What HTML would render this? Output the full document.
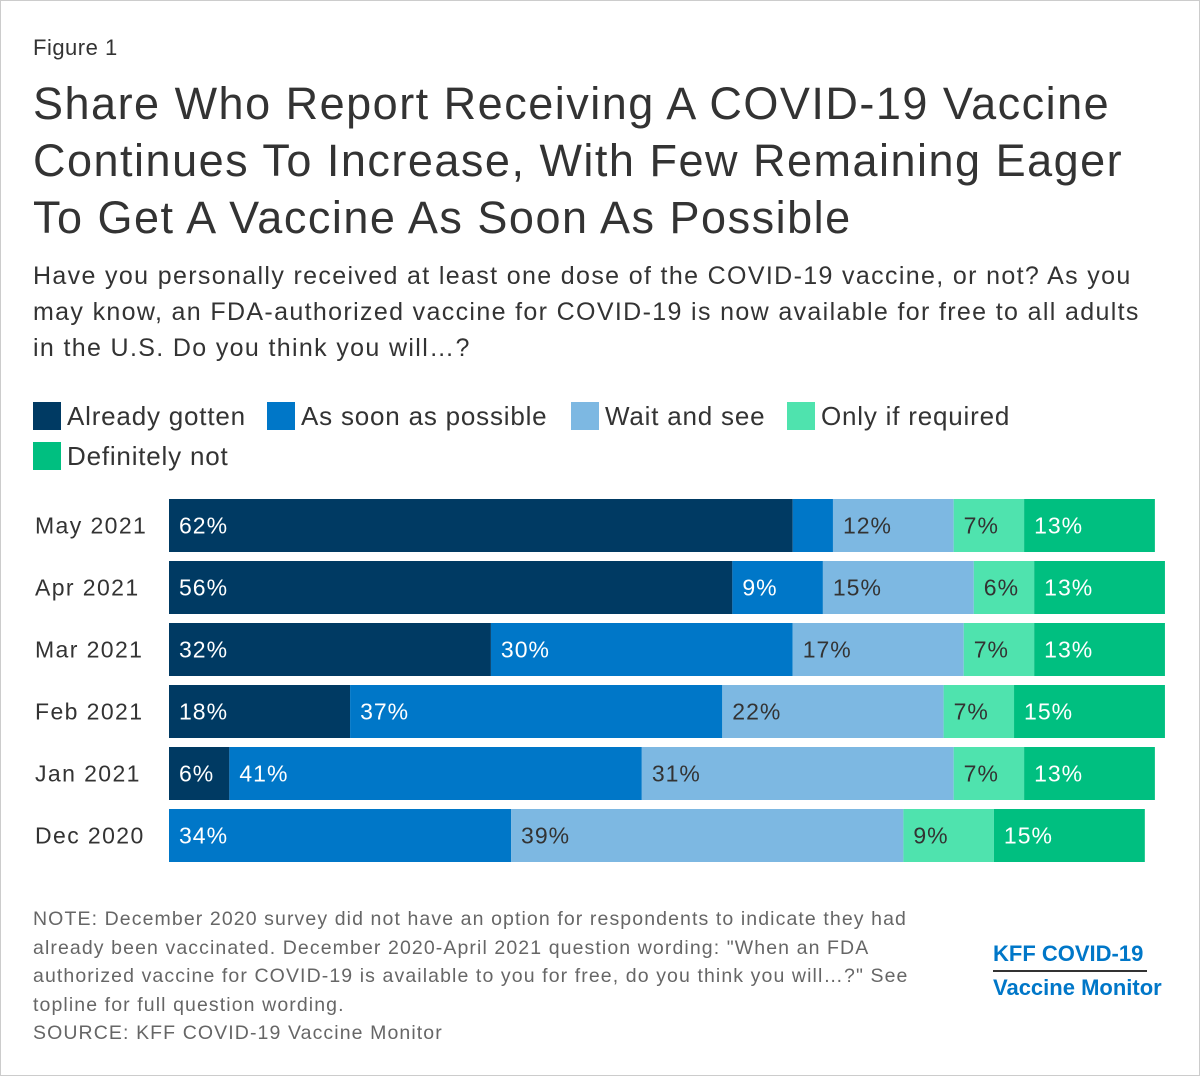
<!DOCTYPE html>
<html><head><meta charset="utf-8"><style>
body{margin:0;background:#fff;}
#wrap{position:relative;width:1198px;height:1074px;border:1px solid #ccc;font-family:"Liberation Sans",Arial,sans-serif;color:#333;overflow:hidden}
.abs{position:absolute;white-space:nowrap}
.sw{display:inline-block;width:28px;height:28px;vertical-align:-5px;margin-right:6px}
.li{position:absolute;font-size:26px;color:#333;letter-spacing:0.8px}
</style></head><body>
<div id="wrap">
<div class="abs" style="left:32px;top:34px;font-size:22px;letter-spacing:0.5px">Figure 1</div>
<div class="abs" style="left:32px;top:74px;font-size:45px;line-height:57px;color:#333;letter-spacing:1.5px">Share Who Report Receiving A COVID-19 Vaccine<br>Continues To Increase, With Few Remaining Eager<br>To Get A Vaccine As Soon As Possible</div>
<div class="abs" style="left:32px;top:257px;font-size:25px;line-height:36px;letter-spacing:1.35px">Have you personally received at least one dose of the COVID-19 vaccine, or not? As you<br>may know, an FDA-authorized vaccine for COVID-19 is now available for free to all adults<br>in the U.S. Do you think you will…?</div>
<div class="li" style="left:32px;top:400px"><span class="sw" style="background:#003A63"></span>Already gotten</div>
<div class="li" style="left:266px;top:400px"><span class="sw" style="background:#0077C8"></span>As soon as possible</div>
<div class="li" style="left:570px;top:400px"><span class="sw" style="background:#7DB8E2"></span>Wait and see</div>
<div class="li" style="left:786px;top:400px"><span class="sw" style="background:#4FE3AE"></span>Only if required</div>
<div class="li" style="left:32px;top:440px"><span class="sw" style="background:#00BF80"></span>Definitely not</div>
<svg id="chart" class="abs" style="left:0;top:0" width="1198" height="1074"></svg>
<div class="abs" style="left:32px;top:904px;font-size:19.5px;line-height:28.5px;color:#666;letter-spacing:1.1px">NOTE: December 2020 survey did not have an option for respondents to indicate they had<br>already been vaccinated. December 2020-April 2021 question wording: "When an FDA<br>authorized vaccine for COVID-19 is available to you for free, do you think you will…?" See<br>topline for full question wording.<br>SOURCE: KFF COVID-19 Vaccine Monitor</div>
<div class="abs" style="left:992px;top:940px;font-size:22px;font-weight:bold;color:#0077C8;line-height:26px">KFF COVID-19</div>
<div class="abs" style="left:992px;top:969px;width:154px;height:1.5px;background:#333"></div>
<div class="abs" style="left:992px;top:974px;font-size:22px;font-weight:bold;color:#0077C8;line-height:26px">Vaccine Monitor</div>
</div>
<script>
const categories=["May 2021","Apr 2021","Mar 2021","Feb 2021","Jan 2021","Dec 2020"];
const alreadyGotten=[62,56,32,18,6,0];
const asSoonAsPossible=[4,9,30,37,41,34];
const waitAndSee=[12,15,17,22,31,39];
const onlyIfRequired=[7,6,7,7,7,9];
const definitelyNot=[13,13,13,15,13,15];
const series=[alreadyGotten,asSoonAsPossible,waitAndSee,onlyIfRequired,definitelyNot];
const names=["already-gotten","as-soon-as-possible","wait-and-see","only-if-required","definitely-not"];
const colors=["#003A63","#0077C8","#7DB8E2","#4FE3AE","#00BF80"];
const textColors=["#fff","#fff","#333","#333","#fff"];
const svg=document.getElementById('chart');const NS="http://www.w3.org/2000/svg";
const x0=168,pxPer=10.06,yTop=498,pitch=62,bh=53;
const xs=v=>v*pxPer;
categories.forEach((c,i)=>{
 const y=yTop+i*pitch;
 const t=document.createElementNS(NS,'text');
 
 
 t.setAttribute('x',34);t.setAttribute('y',y+bh/2+8);t.setAttribute('font-size','23');t.setAttribute('fill','#333');t.setAttribute('font-family','Liberation Sans, sans-serif');t.setAttribute('letter-spacing','1.4');
 t.textContent=c;svg.appendChild(t);
 let cum=0;
 series.forEach((s,k)=>{
  const v=s[i];if(v<=0)return;
  const r=document.createElementNS(NS,'rect');
  
  
  r.setAttribute('x',x0+xs(cum));r.setAttribute('y',y);r.setAttribute('width',xs(v));r.setAttribute('height',bh);r.setAttribute('fill',colors[k]);
  svg.appendChild(r);
  if(v>=5){
   const l=document.createElementNS(NS,'text');
   
   
   l.setAttribute('x',x0+xs(cum)+10);l.setAttribute('y',y+bh/2+8);l.setAttribute('font-size','23');l.setAttribute('fill',textColors[k]);l.setAttribute('font-family','Liberation Sans, sans-serif');l.setAttribute('letter-spacing','1');
   l.textContent=v+'%';svg.appendChild(l);
  }
  cum+=v;
 });
});
</script>
</body></html>
